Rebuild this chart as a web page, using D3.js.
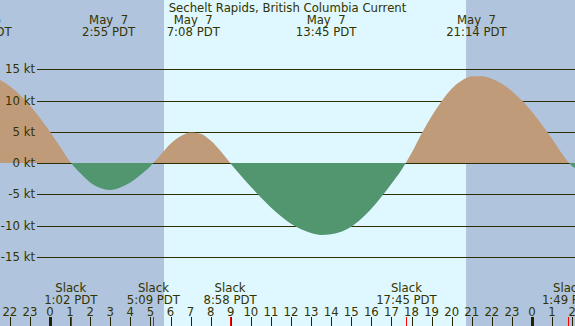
<!DOCTYPE html>
<html>
<head>
<meta charset="utf-8">
<script src="https://cdn.jsdelivr.net/npm/d3@7"></script>
<style>
  html, body { margin: 0; padding: 0; background: #fff; }
  svg { display: block; }
  text { font-family: "DejaVu Sans", sans-serif; font-size: 11.7px; fill: #333300; white-space: pre; }
</style>
</head>
<body>
<svg width="575" height="326"></svg>
<script>
const title = 'Sechelt Rapids, British Columbia Current'

// current speed, hours from midnight May 7
const sampleHours = [-2.5, -2, -1.5, -1, -0.5, 0, 0.5, 1, 1.5, 2, 2.5, 3, 3.5, 4, 4.5, 5, 5.5, 6, 6.5, 7, 7.5, 8, 8.5, 9, 9.5, 10,
  10.5, 11, 11.5, 12, 12.5, 13, 13.5, 14, 14.5, 15, 15.5, 16, 16.5, 17, 17.5, 18, 18.5, 19, 19.5, 20, 20.5, 21, 21.5, 22,
  22.5, 23, 23.5, 24, 24.5, 25, 25.5, 26, 26.2]
const speedKnots = [13.3, 12.3, 10.9, 9.2, 7.2, 5.0, 2.6, 0.2, -1.6, -3.1, -4.0, -4.3, -3.9, -3.1, -1.9, -0.5, 1.3, 3.1, 4.3, 4.9, 4.7, 3.6, 1.9, -0.1, -2.0, -3.8,
  -5.5, -7.1, -8.5, -9.7, -10.6, -11.2, -11.5, -11.4, -11.0, -10.2, -8.9, -7.3, -5.4, -3.3, -1.1, 1.6, 4.7, 7.5, 9.9, 11.9, 13.2, 13.9, 13.9, 13.5,
  12.7, 11.5, 10.0, 8.2, 6.1, 3.9, 1.5, -0.5, -0.9]

// max flood / max ebb events (top labels)
const peakDates = ['May  6', 'May  7', 'May  7', 'May  7', 'May  7']
const peakTimes = ['20:35', '2:55', '7:08', '13:45', '21:14']
const peakDayOffset = [-1, 0, 0, 0, 0]

// slack events (bottom labels)
const slackTimes = ['1:02', '5:09', '8:58', '17:45', '1:49']
const slackDayOffset = [0, 0, 0, 0, 1]

const sunrise = '5:41'
const sunset = '20:43'

const yTicks = [15, 10, 5, 0, -5, -10, -15]
const hourTicks = [-2, -1, 0, 1, 2, 3, 4, 5, 6, 7, 8, 9, 10, 11, 12, 13, 14, 15, 16, 17, 18, 19, 20, 21, 22, 23, 24, 25, 26]

const toHour = (t, offset) => {
  const [h, m] = t.split(':').map(Number)
  return h + m / 60 + offset * 24
}

const svg = d3.select('svg')
const width = 575
const height = 326

const x = d3.scaleLinear().domain([0, 24]).range([50, 532])
const y = d3.scaleLinear().domain([-15, 15]).range([256.75, 69.25])

// night / day background
const hStart = x.invert(0)
const hEnd = x.invert(width)
const bands = [
  { from: hStart, to: toHour(sunrise, 0), fill: '#b0c4de' },
  { from: toHour(sunrise, 0), to: toHour(sunset, 0), fill: '#dff7ff' },
  { from: toHour(sunset, 0), to: hEnd, fill: '#b0c4de' }
]
svg.selectAll('.band')
  .data(bands)
  .enter().append('rect')
  .attr('class', 'band')
  .attr('x', d => x(d.from))
  .attr('y', 0)
  .attr('width', d => x(d.to) - x(d.from))
  .attr('height', height)
  .attr('fill', d => d.fill)

// grid lines
svg.selectAll('.grid')
  .data(yTicks)
  .enter().append('line')
  .attr('x1', 37)
  .attr('x2', width)
  .attr('y1', d => Math.round(y(d)) + 0.5)
  .attr('y2', d => Math.round(y(d)) + 0.5)
  .attr('stroke', '#2e2e00')
  .attr('stroke-width', 1)

const data = sampleHours.map((h, i) => ({ h, v: speedKnots[i] }))

const defs = svg.append('defs')
defs.append('clipPath').attr('id', 'above')
  .append('rect').attr('x', 0).attr('y', 0).attr('width', width).attr('height', y(0))
defs.append('clipPath').attr('id', 'below')
  .append('rect').attr('x', 0).attr('y', y(0)).attr('width', width).attr('height', height - y(0))

const area = d3.area()
  .x(d => x(d.h))
  .y0(y(0))
  .y1(d => y(d.v))
  .curve(d3.curveMonotoneX)

svg.append('path')
  .datum(data)
  .attr('d', area)
  .attr('fill', '#c09b7a')
  .attr('clip-path', 'url(#above)')

svg.append('path')
  .datum(data)
  .attr('d', area)
  .attr('fill', '#529670')
  .attr('clip-path', 'url(#below)')

// y labels
svg.selectAll('.ylab')
  .data(yTicks)
  .enter().append('text')
  .attr('x', 35)
  .attr('y', d => y(d) + 4)
  .attr('text-anchor', 'end')
  .text(d => `${d} kt`)

// title
svg.append('text')
  .attr('x', width / 2)
  .attr('y', 12)
  .attr('text-anchor', 'middle')
  .text(title)

// peak labels
const peaks = peakTimes.map((t, i) => ({ t, date: peakDates[i], h: toHour(t, peakDayOffset[i]) }))
const pk = svg.selectAll('.peak').data(peaks).enter().append('g')
pk.append('text')
  .attr('x', d => x(d.h))
  .attr('y', 24)
  .attr('text-anchor', 'middle')
  .text(d => d.date)
pk.append('text')
  .attr('x', d => x(d.h))
  .attr('y', 36)
  .attr('text-anchor', 'middle')
  .text(d => `${d.t} PDT`)

// slack labels
const slacks = slackTimes.map((t, i) => ({ t, h: toHour(t, slackDayOffset[i]) }))
const sl = svg.selectAll('.slack').data(slacks).enter().append('g')
sl.append('text')
  .attr('x', d => x(d.h))
  .attr('y', 292)
  .attr('text-anchor', 'middle')
  .text('Slack')
sl.append('text')
  .attr('x', d => x(d.h))
  .attr('y', 304)
  .attr('text-anchor', 'middle')
  .text(d => `${d.t} PDT`)

// hour axis
svg.selectAll('.hlab')
  .data(hourTicks)
  .enter().append('text')
  .attr('x', d => x(d))
  .attr('y', 316)
  .attr('text-anchor', 'middle')
  .text(d => ((d % 24) + 24) % 24)

svg.selectAll('.htick')
  .data(hourTicks)
  .enter().append('line')
  .attr('x1', d => Math.round(x(d)) + 0.5)
  .attr('x2', d => Math.round(x(d)) + 0.5)
  .attr('y1', 317)
  .attr('y2', height)
  .attr('stroke', '#222200')
  .attr('stroke-width', d => (d % 24 === 0 ? 3 : 1))

svg.selectAll('.stick')
  .data(slacks)
  .enter().append('line')
  .attr('x1', d => Math.round(x(d.h)) + 0.5)
  .attr('x2', d => Math.round(x(d.h)) + 0.5)
  .attr('y1', 317)
  .attr('y2', height)
  .attr('stroke', '#ff0000')
  .attr('stroke-width', 1)
</script>
</body>
</html>
